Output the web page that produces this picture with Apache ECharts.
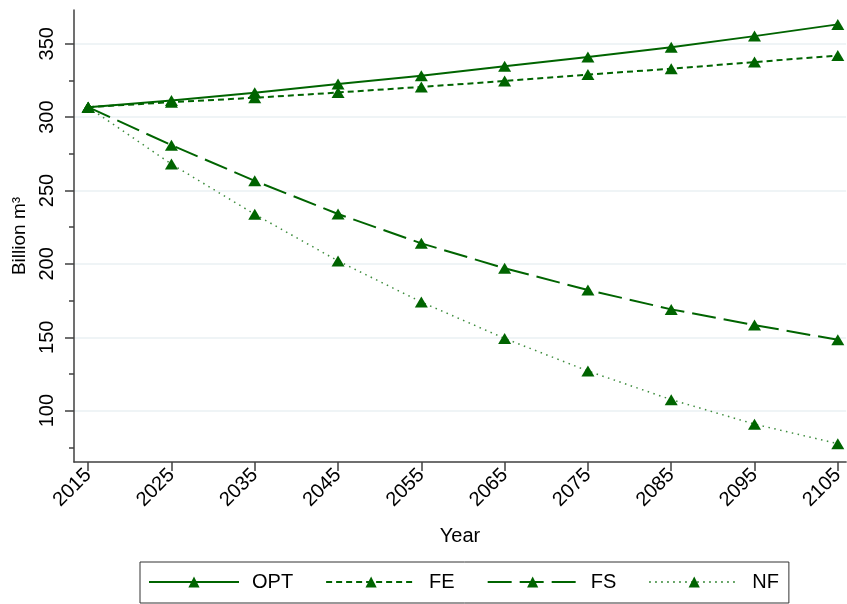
<!DOCTYPE html>
<html>
<head>
<meta charset="utf-8">
<script src="https://cdn.jsdelivr.net/npm/echarts@6/dist/echarts.min.js"></script>
<style>
  html, body { margin: 0; padding: 0; background: #fff; }
  #main { width: 847px; height: 604px; }
</style>
</head>
<body>
<div id="main"></div>
<script>
// years on the x axis
var years = [2015, 2025, 2035, 2045, 2055, 2065, 2075, 2085, 2095, 2105];
// Billion m3
var optValues = [306.8, 311.4, 316.6, 322.5, 328.2, 334.6, 340.9, 347.6, 355.2, 363.2];
var feValues  = [306.8, 310.2, 313.2, 316.8, 320.6, 324.6, 329.0, 333.0, 337.5, 342.0];
var fsValues  = [306.8, 280.9, 256.6, 234.0, 214.0, 197.0, 182.2, 169.0, 158.3, 148.3];
var nfValues  = [306.8, 268.0, 233.8, 202.0, 174.0, 149.2, 127.0, 107.5, 90.8, 77.5];
var yMajorTicks = [100, 150, 200, 250, 300, 350];
var yMinorTicks = [75, 125, 175, 225, 275, 325];

var green = '#006400';
var fontName = '"Liberation Sans", Arial, Helvetica, sans-serif';

var chart = echarts.init(document.getElementById('main'), null, { renderer: 'canvas' });

// pair years with values
function toPairs(vals) {
    var out = [];
    for (var i = 0; i < years.length; i++) {
        out.push([years[i], vals[i]]);
    }
    return out;
}

function makeSeries(name, vals, lineStyle) {
    return {
        name: name,
        type: 'line',
        xAxisIndex: 0,
        yAxisIndex: 0,
        data: toPairs(vals),
        symbol: 'triangle',
        symbolSize: [13, 11],
        showSymbol: true,
        itemStyle: { color: green },
        lineStyle: lineStyle,
        z: 3
    };
}

chart.setOption({
    animation: false,
    backgroundColor: '#fff',
    textStyle: { fontFamily: fontName },
    grid: { left: 74, right: 0, top: 10, bottom: 142 },
    legend: {
        left: 140,
        top: 562,
        padding: [10, 10, 11, 8],
        borderColor: '#333',
        borderWidth: 1,
        itemWidth: 90,
        itemHeight: 14,
        itemGap: 32,
        textStyle: { fontSize: 20, color: '#000', fontFamily: fontName, padding: [0, 0, 0, 8] },
        data: ['OPT', 'FE', 'FS', 'NF']
    },
    xAxis: {
        type: 'value',
        min: 2013.3,
        max: 2106,
        name: 'Year',
        nameLocation: 'middle',
        nameGap: 64,
        nameTextStyle: { fontSize: 20, color: '#000', fontFamily: fontName },
        axisLine: { show: true, lineStyle: { color: '#404040', width: 1.5 } },
        axisTick: { show: true, length: 9, customValues: years, lineStyle: { color: '#404040', width: 1.5 } },
        axisLabel: {
            customValues: years,
            formatter: function (v) { return String(v); },
            rotate: 45,
            margin: 10,
            fontSize: 20,
            color: '#000',
            fontFamily: fontName
        },
        splitLine: { show: false }
    },
    yAxis: [{
        type: 'value',
        min: 65,
        max: 373,
        name: 'Billion m³',
        nameLocation: 'middle',
        nameGap: 44,
        nameRotate: 90,
        nameTextStyle: { fontSize: 19, color: '#000', fontFamily: fontName },
        axisLine: { show: true, lineStyle: { color: '#404040', width: 1.5 } },
        axisTick: { show: true, length: 9, customValues: yMajorTicks, lineStyle: { color: '#404040', width: 1.5 } },
        axisLabel: {
            customValues: yMajorTicks,
            rotate: 90,
            margin: 17,
            fontSize: 20,
            color: '#000',
            fontFamily: fontName
        },
        splitLine: { show: true, lineStyle: { color: '#eaf1f3', width: 1.5 } }
    }, {
        // minor ticks only
        type: 'value',
        min: 65,
        max: 373,
        position: 'left',
        axisLine: { show: false },
        axisTick: { show: true, length: 5, customValues: yMinorTicks, lineStyle: { color: '#404040', width: 1.5 } },
        axisLabel: { show: false },
        splitLine: { show: false }
    }],
    series: [
        makeSeries('OPT', optValues, { color: green, width: 2, type: 'solid' }),
        makeSeries('FE', feValues, { color: green, width: 2, type: [6, 4] }),
        makeSeries('FS', fsValues, { color: green, width: 2, type: [24, 8] }),
        makeSeries('NF', nfValues, { color: '#3d8c3d', width: 1.5, type: [1.5, 4.5] })
    ]
});
</script>
</body>
</html>
